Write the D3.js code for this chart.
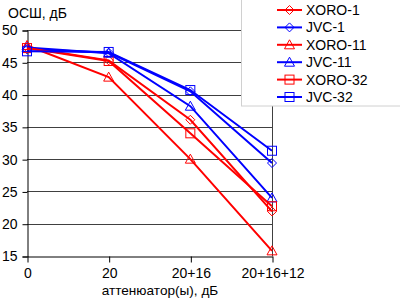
<!DOCTYPE html>
<html>
<head>
<meta charset="utf-8">
<script src="https://cdn.jsdelivr.net/npm/d3@7"></script>
<style>
  body { margin: 0; background: #fff; }
  text { font-family: "Liberation Sans", Arial, sans-serif; }
</style>
</head>
<body>
<div id="chart"></div>
<script>
var svgWidth = 400;
var svgHeight = 298;

// data
var categories = ["0", "20", "20+16", "20+16+12"];
var seriesNames = ["XORO-1", "JVC-1", "XORO-11", "JVC-11", "XORO-32", "JVC-32"];
var seriesColors = ["#ff0000", "#0000ff", "#ff0000", "#0000ff", "#ff0000", "#0000ff"];
var seriesMarkers = ["diamond", "diamond", "triangle", "triangle", "square", "square"];
var xoro1 = [47.3, 45.3, 36.1, 21.9];
var jvc1 = [47.0, 46.5, 40.5, 29.4];
var xoro11 = [47.6, 42.7, 30.0, 15.8];
var jvc11 = [47.3, 46.4, 38.2, 24.0];
var xoro32 = [47.2, 45.2, 34.0, 22.7];
var jvc32 = [46.7, 46.6, 40.7, 31.3];
var yTicks = [15, 20, 25, 30, 35, 40, 45, 50];

var seriesValues = [xoro1, jvc1, xoro11, jvc11, xoro32, jvc32];

var svg = d3.select("#chart")
  .append("svg")
  .attr("width", svgWidth)
  .attr("height", svgHeight);

var xScale = d3.scalePoint()
  .domain(categories)
  .range([27, 272]);

var yScale = d3.scaleLinear()
  .domain([15, 50])
  .range([256, 30]);

// gridlines
svg.append("g")
  .selectAll("line")
  .data(yTicks.filter(d => d > 15))
  .enter()
  .append("line")
  .attr("x1", 27)
  .attr("x2", 272)
  .attr("y1", d => Math.round(yScale(d)) + 0.5)
  .attr("y2", d => Math.round(yScale(d)) + 0.5)
  .attr("stroke", "#404040")
  .attr("stroke-width", 1);

// right border of plot area
svg.append("line")
  .attr("x1", 272.5).attr("x2", 272.5)
  .attr("y1", 30).attr("y2", 256)
  .attr("stroke", "#404040");

// axes
var leftAxis = d3.axisLeft(yScale)
  .tickValues(yTicks)
  .tickSize(5)
  .tickPadding(5);

var yAxisG = svg.append("g")
  .attr("transform", "translate(27.5, 0.5)")
  .call(leftAxis);
yAxisG.select(".domain").attr("stroke", "#000");
yAxisG.selectAll("text").attr("font-size", "14px").attr("fill", "#000")
  .style("font-family", "'Liberation Sans', Arial, sans-serif");

var bottomAxis = d3.axisBottom(xScale)
  .tickSize(6)
  .tickPadding(6)
  .tickSizeOuter(0);

var xAxisG = svg.append("g")
  .attr("transform", "translate(0.5, 256.5)")
  .call(bottomAxis);
xAxisG.select(".domain").attr("stroke", "#000");
xAxisG.selectAll("text").attr("font-size", "14px").attr("fill", "#000")
  .style("font-family", "'Liberation Sans', Arial, sans-serif");

// axis titles
svg.append("text")
  .attr("x", 8)
  .attr("y", 18)
  .attr("font-size", "14px")
  .text("ОСШ, дБ");

svg.append("text")
  .attr("x", 160)
  .attr("y", 295)
  .attr("text-anchor", "middle")
  .attr("font-size", "13.6px")
  .text("аттенюатор(ы), дБ");

// marker drawing
function drawMarker(g, type, color, cx, cy) {
  if (type === "diamond") {
    g.append("path")
      .attr("d", `M${cx},${cy - 4.5}L${cx + 4.5},${cy}L${cx},${cy + 4.5}L${cx - 4.5},${cy}Z`)
      .attr("fill", "none").attr("stroke", color).attr("stroke-width", 1);
  } else if (type === "triangle") {
    g.append("path")
      .attr("d", `M${cx},${cy - 5}L${cx + 5},${cy + 4}L${cx - 5},${cy + 4}Z`)
      .attr("fill", "none").attr("stroke", color).attr("stroke-width", 1);
  } else {
    g.append("rect")
      .attr("x", cx - 4.5).attr("y", cy - 4.5)
      .attr("width", 9).attr("height", 9)
      .attr("fill", "none").attr("stroke", color).attr("stroke-width", 1);
  }
}

var line = d3.line()
  .x((d, i) => xScale(categories[i]))
  .y(d => yScale(d));

seriesValues.forEach(function(values, s) {
  var g = svg.append("g");
  g.append("path")
    .attr("d", line(values))
    .attr("fill", "none")
    .attr("stroke", seriesColors[s])
    .attr("stroke-width", 2);
  values.forEach(function(v, i) {
    drawMarker(g, seriesMarkers[s], seriesColors[s], xScale(categories[i]), yScale(v));
  });
});

// legend
var legend = svg.append("g");
legend.append("rect")
  .attr("x", 241.5)
  .attr("y", -1)
  .attr("width", 170)
  .attr("height", 107)
  .attr("fill", "#fff")
  .attr("stroke", "#d0d0d0");

seriesNames.forEach(function(name, s) {
  var y = 10 + s * 17.4;
  legend.append("line")
    .attr("x1", 277).attr("x2", 302)
    .attr("y1", y).attr("y2", y)
    .attr("stroke", seriesColors[s])
    .attr("stroke-width", 2);
  drawMarker(legend, seriesMarkers[s], seriesColors[s], 289.5, y);
  legend.append("text")
    .attr("x", 306)
    .attr("y", y + 5)
    .attr("font-size", "14px")
    .text(name);
});
</script>
</body>
</html>
